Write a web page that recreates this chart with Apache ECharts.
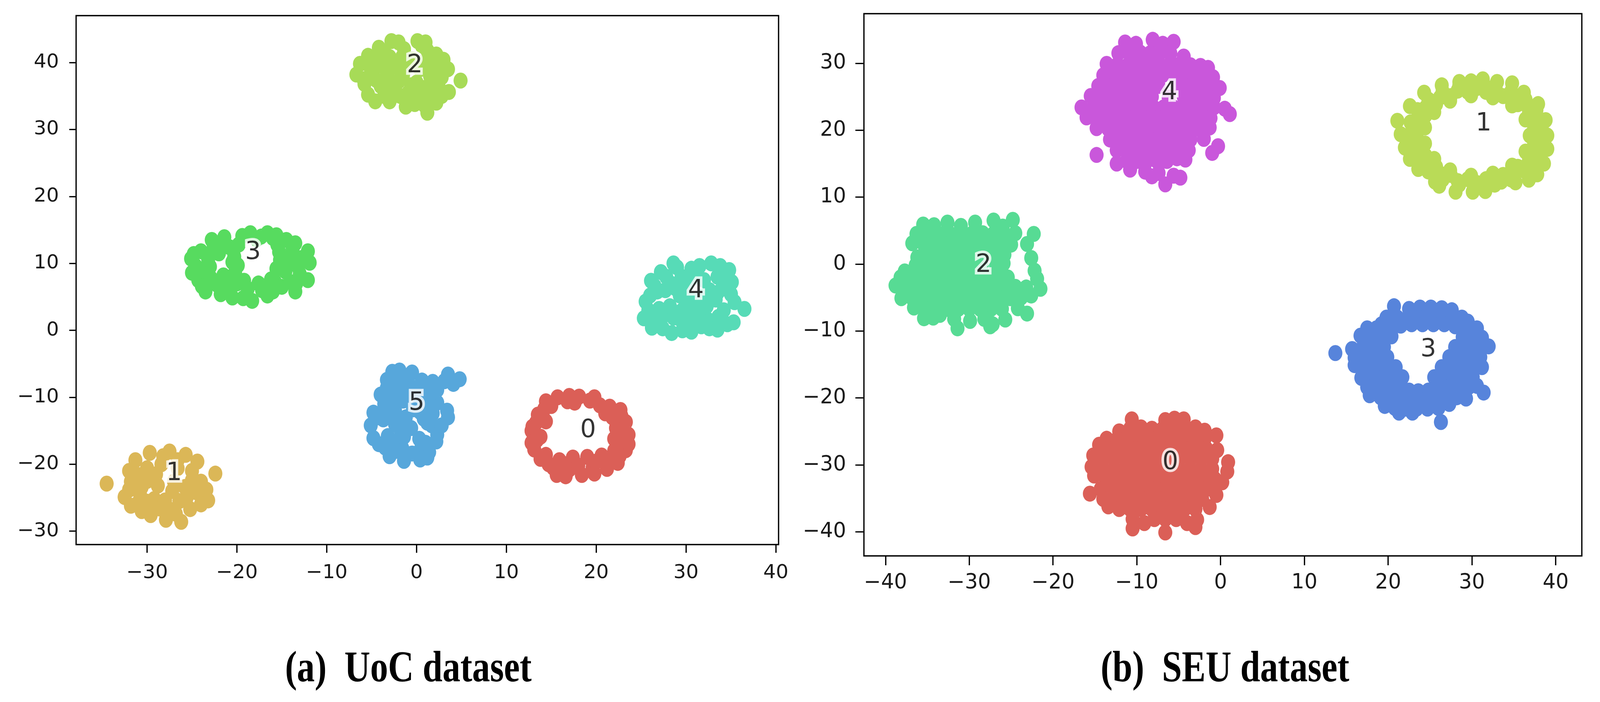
<!DOCTYPE html>
<html><head><meta charset="utf-8">
<script src="https://cdn.jsdelivr.net/npm/echarts@6/dist/echarts.min.js"></script>
<style>html,body{margin:0;padding:0;background:#fff;overflow:hidden}#c{width:100vw;height:100vh}</style>
</head><body><div id="c"></div>
<script>
// ---------- tick labels ----------
const uocXTicks = [-30, -20, -10, 0, 10, 20, 30, 40];
const uocYTicks = [-30, -20, -10, 0, 10, 20, 30, 40];
const seuXTicks = [-40, -30, -20, -10, 0, 10, 20, 30, 40];
const seuYTicks = [-40, -30, -20, -10, 0, 10, 20, 30];
const titles = ['(a)  UoC dataset', '(b)  SEU dataset'];

// ---------- colours (seaborn hls palettes) ----------
const uocColors = ['#db5f57', '#dbb757', '#a7db57', '#57db5f', '#57dbb7', '#57a7db'];
const seuColors = ['#db5f57', '#b9db57', '#57db94', '#5784db', '#c957db'];

// ---------- (a) UoC clusters ----------
const uoc0 = [[14.4,-10.6],[15.7,-10.0],[16.8,-10.6],[18.1,-9.9],[19.3,-10.5],[20.4,-11.2],[21.5,-11.4],[22.7,-11.9],[15.0,-11.3],[17.6,-10.8],[13.5,-12.6],[14.4,-13.6],[21.8,-13.0],[23.3,-13.7],[22.2,-14.6],[12.8,-15.0],[13.8,-15.9],[23.6,-15.6],[22.0,-16.2],[12.8,-16.8],[23.6,-17.0],[13.1,-17.8],[14.4,-18.6],[22.0,-18.0],[23.3,-17.9],[14.7,-20.0],[15.9,-19.4],[17.4,-19.0],[19.0,-18.9],[20.6,-18.7],[21.7,-19.5],[22.4,-19.8],[15.6,-21.6],[17.0,-20.8],[18.4,-21.6],[19.6,-20.5],[21.2,-20.7],[16.5,-20.0],[20.0,-19.6],
[21.0,-12.4],[22.8,-12.8],[13.3,-13.8],[12.9,-14.4],[22.6,-15.0],[13.4,-16.4],[22.7,-16.6],[13.8,-19.2],[15.2,-20.5],[16.6,-21.8],[18.0,-20.2],[19.8,-21.4],[21.0,-19.6],[22.6,-18.8],[14.2,-11.8],[17.0,-9.8],[19.8,-10.0],[23.0,-14.8]];
const uoc1 = [[-34.5,-22.9],[-29.7,-18.3],[-27.5,-18.1],[-25.7,-18.6],[-31.3,-19.4],[-24.4,-19.6],[-30.0,-20.6],[-28.4,-20.0],[-25.0,-21.0],[-22.4,-21.4],[-31.8,-22.6],[-30.0,-22.5],[-28.8,-23.2],[-24.0,-22.6],[-25.8,-23.4],[-27.2,-24.0],[-24.5,-24.2],[-32.5,-24.9],[-30.8,-24.4],[-29.2,-25.2],[-26.4,-25.5],[-23.2,-25.4],[-31.8,-26.2],[-30.6,-27.0],[-28.6,-26.6],[-27.4,-26.8],[-25.2,-26.7],[-27.9,-28.3],[-26.2,-28.6],[-29.6,-26.0],[-31.0,-21.6],[-29.0,-21.5],
[-28.2,-18.8],[-26.6,-19.4],[-32.0,-21.0],[-27.0,-22.6],[-30.6,-23.4],[-25.0,-22.4],[-32.0,-23.8],[-28.0,-25.4],[-25.6,-25.0],[-24.0,-26.0],[-29.6,-27.6],[-26.8,-27.4],[-30.0,-25.6],[-26.6,-20.6],[-23.4,-23.8],[-31.0,-25.8]];
const uoc2 = [[-2.8,43.2],[0.1,43.2],[-4.2,42.2],[-1.4,42.0],[1.2,41.8],[2.2,41.2],[-5.4,41.0],[-3.0,40.8],[-0.5,40.5],[1.0,40.3],[-6.3,39.8],[-4.2,39.6],[-2.2,39.3],[2.6,39.6],[3.5,39.0],[-6.7,38.2],[-5.0,38.0],[-3.2,37.8],[-1.5,38.2],[1.5,38.0],[2.8,37.8],[4.9,37.3],[-5.8,36.8],[-4.0,36.5],[-2.4,36.4],[-0.6,36.6],[0.9,36.2],[2.5,36.2],[3.6,35.6],[-5.4,35.2],[-3.6,35.0],[-1.8,35.0],[0.2,34.8],[1.8,34.6],[-4.6,34.2],[-1.2,33.4],[2.2,34.0],[1.2,32.5],[-0.2,33.8],[-2.8,35.8],[0.0,37.0],[-1.0,39.5],[1.8,39.0],[-3.6,41.6],[0.6,42.5],
[-5.2,39.4],[-3.4,39.0],[-1.6,40.8],[0.4,39.0],[2.1,37.2],[-4.5,37.4],[-2.0,37.2],[-0.9,35.5],[1.3,35.4],[-3.0,34.2],[0.9,33.6],[-5.9,37.5],[3.0,40.4],[-2.0,43.0],[1.0,43.0],[-4.8,40.6],[2.8,35.0]];
const uoc3 = [[-25.1,10.7],[-25.0,8.6],[-24.0,11.8],[-24.3,7.5],[-23.5,5.8],[-22.8,13.5],[-21.4,13.9],[-23.0,9.5],[-22.0,11.5],[-21.5,8.2],[-22.2,6.8],[-20.5,4.9],[-20.5,10.2],[-20.8,12.4],[-19.4,14.1],[-20.0,7.0],[-18.5,14.5],[-18.3,4.4],[-18.8,6.2],[-17.2,6.0],[-16.6,14.5],[-16.6,5.2],[-15.8,7.3],[-15.5,12.8],[-15.2,10.5],[-14.5,13.5],[-14.6,8.8],[-14.0,11.0],[-13.5,5.8],[-13.2,9.5],[-12.1,11.8],[-11.9,10.1],[-12.1,7.5],[-15.0,6.5],[-21.0,6.2],[-23.8,9.0],[-17.8,13.6],[-16.0,13.8],[-13.8,12.2],[-19.8,12.8],
[-20.2,8.6],[-20.3,11.0],[-22.6,12.3],[-23.2,10.6],[-24.6,9.6],[-22.9,7.8],[-21.0,7.6],[-19.3,4.8],[-14.0,7.2],[-13.0,8.4],[-13.5,13.0],[-15.3,11.7],[-14.6,9.9],[-12.8,10.8],[-24.8,11.4],[-21.6,12.8],[-17.3,14.0],[-15.6,14.2],[-13.4,7.0],[-16.0,5.8],[-21.8,5.4],[-23.9,6.6],
[-19.9,9.7],[-15.6,9.2],[-17.6,7.0],[-19.2,7.4],[-16.2,7.6]];
const uoc4 = [[28.6,10.0],[32.8,10.0],[30.6,9.2],[34.8,9.0],[27.2,8.7],[29.5,8.0],[33.5,8.0],[26.1,7.4],[28.3,7.0],[32.0,7.5],[35.1,7.2],[34.0,6.2],[26.8,5.8],[29.3,5.2],[31.8,5.0],[33.3,4.6],[25.5,4.3],[27.0,3.2],[30.0,3.5],[31.5,2.8],[34.2,3.0],[36.5,3.2],[25.3,1.8],[26.6,1.4],[28.6,1.9],[30.3,1.3],[32.4,1.6],[35.3,1.2],[27.4,0.3],[28.4,-0.4],[31.7,0.6],[33.5,0.1],[29.6,3.0],[32.6,6.0],[30.0,6.6],[27.7,6.0],
[29.0,9.4],[31.5,9.6],[33.8,9.6],[27.8,8.0],[30.8,8.0],[34.6,7.8],[26.5,6.6],[28.8,6.3],[33.5,5.6],[35.0,5.4],[26.0,5.2],[30.5,4.6],[32.3,3.6],[35.4,4.2],[26.0,2.6],[27.8,2.4],[29.4,1.6],[31.0,1.8],[33.6,2.0],[34.6,0.9],[26.2,0.4],[29.6,0.0],[30.6,-0.2],[32.6,0.3],[25.8,3.0],
[28.2,3.6],[29.0,2.6],[31.0,3.6]];
const uoc5 = [[-2.7,-6.2],[-1.9,-6.0],[-0.5,-6.3],[-3.3,-7.4],[-1.2,-7.6],[0.6,-7.5],[1.8,-7.7],[3.5,-6.6],[4.8,-7.3],[4.1,-8.0],[-3.3,-8.6],[-2.0,-9.0],[2.3,-8.9],[-3.0,-10.2],[2.0,-9.9],[-3.6,-11.0],[2.3,-10.8],[-4.8,-12.3],[-2.4,-12.0],[1.8,-12.4],[3.4,-12.0],[-1.2,-13.0],[0.8,-13.2],[3.5,-13.0],[-5.1,-14.2],[-2.4,-14.0],[-0.6,-14.6],[1.7,-14.2],[-4.8,-16.1],[-3.2,-15.8],[-1.4,-15.9],[0.3,-16.2],[2.3,-15.6],[-3.5,-17.5],[-1.6,-17.6],[0.5,-17.7],[2.2,-16.6],[-3.0,-18.8],[-1.4,-19.5],[0.4,-19.3],[1.4,-18.2],[-3.7,-13.3],[1.0,-11.0],[-1.5,-10.5],
[-2.6,-7.2],[-0.2,-8.6],[1.2,-9.0],[3.1,-7.6],[-4.0,-9.6],[-2.6,-11.0],[-4.2,-13.0],[-1.8,-14.8],[-2.4,-16.6],[-0.5,-18.4],[1.0,-16.8],[-2.2,-18.0],[2.8,-14.2],[0.4,-12.2],[-3.0,-12.8],[1.8,-11.4],[-0.8,-9.4],[-4.2,-17.0],[1.2,-19.0],
[0.4,-10.2],[1.2,-13.8],[-0.4,-11.8]];
const uocLabels = [[19.1,-15.0,'0'],[-27.0,-21.4,'1'],[-0.2,39.5,'2'],[-18.2,11.6,'3'],[31.1,5.9,'4'],[0.0,-10.9,'5']];

// ---------- (b) SEU clusters ----------
const seu0 = [[-10.6,-23.2],[-6.6,-23.3],[-5.5,-23.1],[-4.4,-23.2],
[-12.1,-25.0],[-10.8,-24.6],[-9.5,-24.4],[-8.2,-24.6],[-6.9,-24.6],[-5.6,-24.6],[-4.3,-24.6],[-3.0,-24.4],[-1.9,-24.9],
[-13.6,-26.1],[-12.3,-26.1],[-11.0,-26.1],[-9.7,-26.1],[-8.4,-26.1],[-7.1,-26.1],[-5.8,-26.1],[-4.5,-26.1],[-3.2,-26.1],[-1.9,-26.1],[-0.5,-25.6],
[-14.5,-27.0],[-13.4,-27.6],[-12.1,-27.6],[-10.8,-27.6],[-9.5,-27.6],[-8.2,-27.6],[-6.9,-27.6],[-5.6,-27.6],[-4.3,-27.6],[-3.0,-27.6],[-1.7,-27.6],[-0.4,-27.8],
[-15.2,-28.6],[-14.0,-29.1],[-12.7,-29.1],[-11.4,-29.1],[-10.1,-29.1],[-8.8,-29.1],[-7.5,-29.1],[-6.2,-29.1],[-4.9,-29.1],[-3.6,-29.1],[-2.3,-29.1],[-1.0,-29.1],[0.9,-29.6],
[-15.4,-30.3],[-14.0,-30.6],[-12.7,-30.6],[-11.4,-30.6],[-10.1,-30.6],[-8.8,-30.6],[-7.5,-30.6],[-6.2,-30.6],[-4.9,-30.6],[-3.6,-30.6],[-2.3,-30.6],[-1.0,-30.6],[0.8,-31.0],
[-15.1,-31.6],[-13.7,-32.1],[-12.4,-32.1],[-11.1,-32.1],[-9.8,-32.1],[-8.5,-32.1],[-7.2,-32.1],[-5.9,-32.1],[-4.6,-32.1],[-3.3,-32.1],[-2.0,-32.1],[-0.7,-32.1],[0.2,-32.6],
[-14.3,-33.6],[-12.8,-33.6],[-11.5,-33.6],[-10.2,-33.6],[-8.9,-33.6],[-7.6,-33.6],[-6.3,-33.6],[-5.0,-33.6],[-3.7,-33.6],[-2.4,-33.6],[-1.1,-33.6],[-15.6,-34.3],
[-14.0,-35.1],[-12.6,-35.1],[-11.3,-35.1],[-10.0,-35.1],[-8.7,-35.1],[-7.4,-35.1],[-6.1,-35.1],[-4.8,-35.1],[-3.5,-35.1],[-2.2,-35.1],[-0.5,-34.5],
[-13.4,-36.2],[-12.1,-36.6],[-10.8,-36.6],[-9.5,-36.6],[-8.2,-36.6],[-6.9,-36.6],[-5.6,-36.6],[-4.3,-36.6],[-3.0,-36.6],[-1.3,-36.3],
[-10.5,-38.1],[-9.1,-38.7],[-7.9,-38.1],[-6.6,-38.1],[-5.3,-38.1],[-4.0,-38.7],[-2.8,-38.2],
[-10.5,-39.5],[-6.6,-40.1],[-3.0,-39.3]];
const seu1 = [[39.0,19.2],[38.8,21.5],[37.9,23.9],[36.2,25.6],[34.8,27.0],[33.0,27.2],[31.3,27.6],[29.9,27.3],[28.5,27.2],[26.4,26.7],[24.3,25.6],[22.6,23.6],[21.1,21.4],[21.5,19.4],[22.0,17.4],[22.6,15.7],[23.6,14.2],[25.6,12.3],[26.1,11.7],[28.05,10.8],[30.1,10.8],[31.6,10.9],[33.5,12.3],[35.2,12.2],[36.8,12.6],[38.6,15.0],[39.0,17.2],[37.8,13.4],
[38.8,19.2],[38.52,21.17],[37.7,23.0],[36.4,24.57],[34.7,25.78],[32.72,26.54],[30.6,26.8],[28.48,26.54],[26.5,25.78],[24.8,24.57],[23.5,23.0],[22.68,21.17],[22.4,19.2],[22.68,17.23],[23.5,15.4],[24.8,13.83],[26.5,12.62],[28.48,11.86],[30.6,11.6],[32.72,11.86],[34.7,12.62],[36.4,13.83],[37.7,15.4],[38.52,17.23],
[38.1,19.2],[37.7,21.4],[36.7,23.4],[35.0,24.9],[32.9,25.9],[30.6,26.3],[28.3,25.9],[26.2,24.9],[24.5,23.4],[23.5,21.4],[23.1,19.2],[23.5,17.0],[24.5,15.0],[26.2,13.5],[28.3,12.4],[30.6,12.1],[32.9,12.4],[35.0,13.5],[36.7,15.0],[37.7,17.0],
[37.42,20.23],[36.75,22.2],[35.48,23.87],[33.73,25.08],[31.68,25.72],[29.52,25.72],[27.47,25.08],[25.72,23.87],[24.45,22.2],[23.78,20.23],[23.78,18.17],[24.45,16.2],[25.72,14.53],[27.47,13.32],[29.52,12.68],[31.68,12.68],[33.73,13.32],[35.48,14.53],[36.75,16.2],[37.42,18.17],
[36.9,19.2],[36.4,21.6],[34.8,23.7],[32.5,24.9],[29.9,25.2],[27.4,24.4],[25.5,22.7],[24.4,20.4],[24.4,18.0],[25.5,15.7],[27.4,14.0],[29.9,13.2],[32.5,13.5],[34.8,14.7],[36.4,16.8]];
const seu2 = [[-35.5,5.9],[-34.2,5.8],[-32.6,6.2],[-31.0,5.7],[-29.3,6.2],[-27.1,6.5],[-24.8,6.6],[-26.0,5.6],
[-36.3,4.5],[-35.0,4.5],[-33.6,4.5],[-32.3,4.5],[-31.0,4.4],[-29.7,4.5],[-28.4,4.6],[-27.1,4.5],[-25.8,4.4],[-24.5,4.6],[-22.3,4.5],
[-36.8,3.1],[-35.4,2.9],[-34.1,2.9],[-32.8,2.9],[-31.5,2.9],[-30.2,2.9],[-28.9,2.9],[-27.6,2.9],[-26.3,2.9],[-25.0,2.9],[-23.1,3.0],
[-36.2,1.0],[-34.9,1.3],[-33.6,1.3],[-32.3,1.3],[-31.0,1.3],[-29.7,1.3],[-28.4,1.4],[-27.0,1.3],[-25.8,1.4],[-22.6,0.9],
[-37.7,-1.1],[-36.4,-0.2],[-35.0,-0.3],[-33.7,-0.3],[-32.4,-0.3],[-31.1,-0.3],[-29.8,-0.3],[-28.5,-0.2],[-26.8,-0.3],[-25.9,0.1],[-22.2,-1.0],
[-38.2,-2.0],[-36.9,-1.9],[-35.6,-1.9],[-34.3,-1.9],[-33.0,-1.9],[-31.7,-1.9],[-30.4,-1.9],[-29.1,-1.9],[-27.8,-1.9],[-26.5,-1.9],[-25.4,-2.0],[-21.9,-2.2],
[-38.8,-3.2],[-37.5,-3.5],[-36.2,-3.5],[-34.9,-3.5],[-33.6,-3.5],[-32.3,-3.5],[-31.0,-3.5],[-29.7,-3.5],[-28.4,-3.5],[-27.1,-3.5],[-25.8,-3.5],[-24.5,-3.4],[-23.2,-3.5],[-21.5,-3.7],
[-38.1,-5.1],[-36.8,-5.1],[-35.5,-5.1],[-34.2,-5.1],[-32.9,-5.1],[-31.6,-5.1],[-30.3,-5.1],[-29.0,-5.1],[-27.7,-5.1],[-26.4,-5.1],[-25.1,-5.1],[-23.8,-5.0],[-22.6,-4.7],
[-36.6,-6.5],[-35.3,-6.7],[-34.0,-6.7],[-32.6,-6.7],[-31.3,-6.7],[-30.0,-6.7],[-28.7,-6.7],[-27.4,-6.7],[-26.1,-6.7],[-24.2,-6.6],
[-35.4,-8.1],[-33.5,-7.6],[-31.8,-8.2],[-29.9,-8.5],[-28.2,-8.2],[-27.2,-9.0],[-25.7,-8.3],[-23.1,-7.4],[-34.3,-8.0],
[-31.4,-9.6],[-27.5,-9.3]];
const seu3 = [[20.7,-6.3],[22.5,-6.7],[23.8,-6.5],[25.1,-6.5],[26.4,-6.6],[27.6,-6.9],
[19.2,-9.0],[19.8,-8.0],[21.1,-8.0],[22.4,-8.0],[23.7,-8.0],[25.0,-8.0],[26.3,-8.0],[27.6,-8.0],[28.8,-8.0],[29.5,-8.6],
[17.5,-9.6],[18.6,-9.6],[20.2,-9.4],[21.5,-9.2],[22.8,-9.0],[24.1,-9.0],[25.4,-9.0],[26.7,-9.0],[28.0,-9.3],[29.4,-9.6],[30.6,-9.6],
[16.7,-10.7],[17.9,-11.0],[19.2,-11.0],[20.4,-10.8],[28.9,-10.9],[30.1,-10.9],[31.2,-11.0],
[15.7,-12.7],[17.0,-12.4],[18.3,-12.4],[19.5,-12.4],[28.0,-12.4],[29.3,-12.4],[30.6,-12.4],[32.0,-12.3],
[13.7,-13.3],[16.0,-14.0],[17.3,-13.9],[18.6,-13.9],[19.9,-13.9],[27.3,-13.9],[28.5,-13.9],[29.8,-13.9],[31.0,-13.9],
[16.0,-15.1],[17.3,-15.4],[18.6,-15.4],[19.9,-15.4],[20.9,-15.4],[26.4,-15.4],[27.6,-15.4],[28.9,-15.4],[30.2,-15.4],[31.2,-15.4],
[16.8,-17.0],[18.1,-16.9],[19.4,-16.9],[20.6,-16.9],[21.7,-16.9],[25.5,-16.9],[26.6,-16.9],[27.8,-16.9],[29.0,-16.9],[30.1,-16.9],
[17.5,-18.4],[18.8,-18.4],[20.1,-18.4],[21.4,-18.4],[22.5,-18.9],[23.6,-19.0],[24.8,-18.9],[25.9,-18.4],[27.1,-18.4],[28.4,-18.4],[29.6,-18.4],[30.6,-18.2],
[17.8,-19.6],[19.1,-19.9],[20.4,-19.9],[21.7,-19.9],[23.0,-20.2],[24.3,-20.3],[25.6,-20.0],[26.9,-19.9],[28.2,-19.9],[29.3,-20.1],[31.4,-19.2],
[19.6,-21.2],[20.8,-21.5],[22.1,-21.6],[23.4,-21.6],[24.7,-21.6],[26.0,-21.5],[27.3,-20.9],
[22.9,-22.2],[26.3,-23.6],[21.3,-22.2]];
const seu4 = [[-11.4,33.1],[-10.1,32.9],[-8.1,33.5],[-6.9,32.9],[-5.6,33.2],
[-12.2,31.5],[-10.9,31.5],[-9.6,31.6],[-8.4,31.5],[-7.2,31.6],[-6.0,31.5],[-4.4,31.0],
[-13.6,29.9],[-12.3,29.8],[-11.0,29.8],[-9.8,29.8],[-8.5,29.9],[-7.3,29.8],[-6.1,29.8],[-4.9,29.8],[-3.6,29.7],[-2.4,29.6],[-1.5,29.3],
[-14.0,28.2],[-12.8,28.2],[-11.6,28.3],[-10.4,28.2],[-9.2,28.2],[-8.0,28.2],[-6.8,28.3],[-5.6,28.2],[-4.4,28.2],[-3.2,28.2],[-2.0,28.1],[-0.9,27.9],
[-14.6,26.6],[-13.4,26.6],[-12.2,26.7],[-11.0,26.6],[-9.8,26.6],[-8.6,26.6],[-7.4,26.6],[-5.0,26.6],[-3.8,26.6],[-2.6,26.6],[-1.4,26.5],[-0.1,26.3],
[-15.5,25.1],[-14.2,25.0],[-13.0,25.0],[-11.8,25.0],[-10.6,25.0],[-9.4,25.0],[-8.2,25.0],[-6.2,24.9],[-4.4,25.0],[-3.2,25.0],[-2.0,25.0],[-0.8,24.8],
[-16.6,23.4],[-15.2,23.4],[-14.0,23.4],[-12.8,23.4],[-11.6,23.4],[-10.4,23.4],[-9.2,23.4],[-8.0,23.4],[-6.8,23.4],[-5.6,23.4],[-4.4,23.4],[-3.2,23.4],[-2.0,23.4],[-0.8,23.4],[0.5,23.2],
[-16.0,21.9],[-14.6,21.8],[-13.4,21.8],[-12.2,21.8],[-11.0,21.8],[-9.8,21.8],[-8.6,21.8],[-7.4,21.8],[-6.2,21.8],[-5.0,21.8],[-3.8,21.8],[-2.6,21.8],[-1.2,21.8],[1.1,22.4],
[-14.8,20.3],[-13.4,20.2],[-12.2,20.2],[-11.0,20.2],[-9.8,20.2],[-8.6,20.2],[-7.4,20.2],[-6.2,20.2],[-5.0,20.2],[-3.8,20.2],[-2.6,20.2],[-1.3,20.4],
[-13.2,18.6],[-12.0,18.6],[-10.8,18.6],[-9.6,18.6],[-8.4,18.6],[-7.2,18.6],[-6.0,18.6],[-4.8,18.6],[-3.6,18.6],[-2.0,18.7],[-0.3,17.6],
[-14.8,16.3],[-12.4,17.0],[-11.2,17.0],[-10.0,17.0],[-8.8,17.0],[-7.6,17.0],[-6.4,17.0],[-5.2,17.0],[-3.8,17.0],[-1.0,16.6],
[-12.4,15.0],[-11.2,15.4],[-10.0,15.4],[-8.8,15.4],[-7.6,15.4],[-6.4,15.4],[-5.2,15.8],[-4.2,15.6],
[-10.8,14.1],[-9.0,13.8],[-8.2,13.1],[-6.6,11.9],[-5.6,13.2],[-4.8,12.9],[-7.4,13.6]];
const seuLabels = [[-6.0,-29.7,'0'],[31.4,20.9,'1'],[-28.3,-0.2,'2'],[24.8,-12.8,'3'],[-6.1,25.6,'4']];

const uocClusters = [uoc0, uoc1, uoc2, uoc3, uoc4, uoc5];
const seuClusters = [seu0, seu1, seu2, seu3, seu4];

// ---------- layout: design space 4667x1797, stretched to the real viewport ----------
const el = document.getElementById('c');
const VW = el.clientWidth || window.innerWidth || 4667;
const VH = el.clientHeight || window.innerHeight || 1797;
const SX = VW / 4667, SY = VH / 1797, SF = Math.sqrt(SX * SY);
const kx = v => v * SX, ky = v => v * SY, kf = v => v * SF;

// ---------- chart ----------
const fmt = v => (v < 0 ? '\u2212' + Math.abs(v) : String(v));
function mkAxis(gi, min, max, ticks, isX, fs, tickLen, margin) {
  return {
    type: 'value', gridIndex: gi, min: min, max: max,
    axisLine: { show: false, onZero: false },
    splitLine: { show: false },
    axisTick: { show: true, length: isX ? ky(tickLen) : kx(tickLen), customValues: ticks, lineStyle: { color: '#000', width: kf(3.5) } },
    axisLabel: { show: true, customValues: ticks, formatter: fmt, fontSize: kf(fs), fontFamily: 'DejaVu Sans', color: '#1a1a1a', margin: isX ? ky(margin) : kx(margin) }
  };
}
const series = [];
uocClusters.forEach((d, i) => series.push({
  type: 'scatter', xAxisIndex: 0, yAxisIndex: 0, data: d, symbolSize: [kx(41), ky(41)],
  itemStyle: { color: uocColors[i], opacity: 1 }, silent: true
}));
seuClusters.forEach((d, i) => series.push({
  type: 'scatter', xAxisIndex: 1, yAxisIndex: 1, data: d, symbolSize: [kx(41), ky(41)],
  itemStyle: { color: seuColors[i], opacity: 1 }, silent: true
}));
const labelStyle = {
  show: true, position: 'inside', formatter: p => p.value[2], fontSize: kf(68), fontFamily: 'DejaVu Sans',
  color: '#000', textBorderColor: '#fff', textBorderWidth: kf(14)
};
series.push({ type: 'scatter', xAxisIndex: 0, yAxisIndex: 0, data: uocLabels, symbolSize: 1, z: 10,
  itemStyle: { color: 'rgba(0,0,0,0)' }, label: labelStyle, silent: true });
series.push({ type: 'scatter', xAxisIndex: 1, yAxisIndex: 1, data: seuLabels, symbolSize: 1, z: 10,
  itemStyle: { color: 'rgba(0,0,0,0)' }, label: labelStyle, silent: true });

const chart = echarts.init(el);
chart.setOption({
  animation: false,
  backgroundColor: '#fff',
  grid: [
    { left: kx(222), top: ky(40), width: kx(2049), height: ky(1354), show: true, borderColor: '#000', borderWidth: kf(3.5), backgroundColor: 'rgba(0,0,0,0)', outerBoundsMode: 'none', containLabel: false },
    { left: kx(2520), top: ky(35), width: kx(2094), height: ky(1388), show: true, borderColor: '#000', borderWidth: kf(3.5), backgroundColor: 'rgba(0,0,0,0)', outerBoundsMode: 'none', containLabel: false }
  ],
  xAxis: [
    mkAxis(0, -37.9, 40.3, uocXTicks, true, 54, 21, 47),
    mkAxis(1, -42.57, 43.12, seuXTicks, true, 56, 24, 43)
  ],
  yAxis: [
    mkAxis(0, -32.0, 47.0, uocYTicks, false, 54, 20, 50),
    mkAxis(1, -43.6, 37.4, seuYTicks, false, 56, 25, 52)
  ],
  graphic: [
    { type: 'text', x: kx(1191), y: ky(1715), scaleX: SX, scaleY: SY * 1.07, style: { text: titles[0], font: 'bold 104px "Liberation Serif"', fill: '#000', textAlign: 'center', textVerticalAlign: 'middle' } },
    { type: 'text', x: kx(3573), y: ky(1715), scaleX: SX, scaleY: SY * 1.07, style: { text: titles[1], font: 'bold 104px "Liberation Serif"', fill: '#000', textAlign: 'center', textVerticalAlign: 'middle' } }
  ],
  series: series
});
</script>
</body></html>
